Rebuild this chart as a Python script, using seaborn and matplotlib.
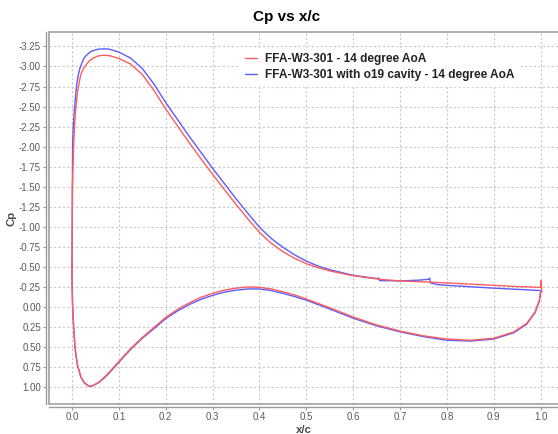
import matplotlib
matplotlib.use("Agg")
import matplotlib.pyplot as plt
from matplotlib.patches import Rectangle
from matplotlib.ticker import MultipleLocator, FormatStrFormatter
import numpy as np
import pandas as pd
import seaborn as sns

# Suction side (upper surface), leading edge -> trailing edge
upper_x_base = [0.000, 0.001, 0.003, 0.005, 0.007, 0.010, 0.012, 0.016, 0.019, 0.025,
                0.030, 0.037, 0.044, 0.055, 0.066, 0.080, 0.100, 0.125, 0.150, 0.175,
                0.200, 0.225, 0.250, 0.275, 0.300, 0.325, 0.350, 0.375, 0.400, 0.425,
                0.450, 0.475, 0.500, 0.525, 0.550, 0.600, 0.657, 0.700, 0.764, 0.800,
                0.900, 0.950, 1.000, 1.001, 1.002]
upper_cp_base = [-0.40, -1.50, -1.92, -2.20, -2.40, -2.58, -2.69, -2.82, -2.90, -2.98,
                 -3.02, -3.07, -3.10, -3.13, -3.14, -3.135, -3.10, -3.03, -2.90, -2.70,
                 -2.47, -2.26, -2.05, -1.85, -1.655, -1.465, -1.28, -1.10, -0.93, -0.795,
                 -0.69, -0.607, -0.54, -0.49, -0.45, -0.39, -0.345, -0.325, -0.31, -0.30,
                 -0.27, -0.255, -0.245, -0.33, -0.21]

upper_x_cav = [0.000, 0.0005, 0.001, 0.0014, 0.003, 0.005, 0.0075, 0.010, 0.013, 0.017,
               0.021, 0.026, 0.033, 0.041, 0.055, 0.069, 0.080, 0.100, 0.125, 0.150,
               0.175, 0.200, 0.225, 0.250, 0.275, 0.300, 0.325, 0.350, 0.375, 0.400,
               0.425, 0.450, 0.475, 0.500, 0.525, 0.550, 0.600, 0.650, 0.655, 0.656,
               0.700, 0.740, 0.761, 0.763, 0.765, 0.780, 0.800, 0.900, 0.950, 1.000,
               1.003]
upper_cp_cav = [-0.40, -1.00, -1.60, -2.06, -2.28, -2.44, -2.62, -2.77, -2.88, -2.98,
                -3.04, -3.11, -3.15, -3.19, -3.215, -3.22, -3.215, -3.18, -3.105, -2.975,
                -2.78, -2.55, -2.34, -2.13, -1.93, -1.73, -1.54, -1.35, -1.17, -0.995,
                -0.855, -0.745, -0.65, -0.572, -0.51, -0.465, -0.395, -0.355, -0.36, -0.33,
                -0.325, -0.335, -0.345, -0.36, -0.30, -0.28, -0.27, -0.235, -0.22, -0.205,
                -0.19]

# Pressure side (lower surface), leading edge -> trailing edge
lower_x_base = [0.0005, 0.0014, 0.0036, 0.0064, 0.009, 0.012, 0.019, 0.026, 0.036, 0.044,
                0.052, 0.059, 0.070, 0.080, 0.100, 0.125, 0.150, 0.175, 0.200, 0.225,
                0.250, 0.275, 0.300, 0.325, 0.350, 0.375, 0.400, 0.425, 0.450, 0.475,
                0.500, 0.550, 0.600, 0.650, 0.700, 0.750, 0.800, 0.850, 0.900, 0.943,
                0.970, 0.988, 0.997, 1.000]
lower_cp_base = [-0.20, 0.00, 0.25, 0.50, 0.62, 0.73, 0.87, 0.94, 0.99, 0.98,
                 0.955, 0.93, 0.87, 0.81, 0.68, 0.52, 0.38, 0.255, 0.13, 0.03,
                 -0.05, -0.12, -0.17, -0.21, -0.235, -0.25, -0.245, -0.225, -0.19, -0.15,
                 -0.10, 0.01, 0.125, 0.225, 0.30, 0.36, 0.40, 0.415, 0.39, 0.31,
                 0.205, 0.06, -0.085, -0.20]

lower_x_cav = [0.0005, 0.0014, 0.0036, 0.0064, 0.009, 0.012, 0.019, 0.026, 0.036, 0.044,
               0.052, 0.059, 0.070, 0.080, 0.100, 0.125, 0.150, 0.175, 0.200, 0.225,
               0.250, 0.275, 0.300, 0.325, 0.350, 0.375, 0.400, 0.425, 0.450, 0.475,
               0.500, 0.550, 0.600, 0.650, 0.700, 0.750, 0.800, 0.850, 0.900, 0.943,
               0.970, 0.988, 0.997, 1.000]
lower_cp_cav = [-0.25, 0.00, 0.25, 0.50, 0.62, 0.73, 0.875, 0.945, 0.99, 0.985,
                0.96, 0.935, 0.88, 0.82, 0.69, 0.53, 0.39, 0.27, 0.145, 0.05,
                -0.03, -0.095, -0.145, -0.185, -0.21, -0.225, -0.225, -0.205, -0.17, -0.13,
                -0.085, 0.025, 0.14, 0.235, 0.31, 0.37, 0.415, 0.425, 0.40, 0.32,
                0.215, 0.07, -0.07, -0.19]

label_base = "FFA-W3-301 - 14 degree AoA"
label_cav = "FFA-W3-301 with o19 cavity - 14 degree AoA"
color_base = "#ff5c5c"
color_cav = "#5c5cff"


def loop_frame(ux, ucp, lx, lcp):
    # closed contour: trailing edge -> leading edge along the upper side, then back along the lower side
    x = list(reversed(ux)) + list(lx)
    cp = list(reversed(ucp)) + list(lcp)
    return pd.DataFrame({"x/c": x, "Cp": cp, "order": np.arange(len(x))})


df_base = loop_frame(upper_x_base, upper_cp_base, lower_x_base, lower_cp_base)
df_cav = loop_frame(upper_x_cav, upper_cp_cav, lower_x_cav, lower_cp_cav)

sns.set_style("white")
plt.rcParams["font.family"] = ["Liberation Sans", "DejaVu Sans"]
plt.rcParams["axes.unicode_minus"] = False

W, H = 558, 434
fig = plt.figure(figsize=(W / 100, H / 100), dpi=100)
L, R, T, B = 49, 559, 32, 404
ax = fig.add_axes([L / W, 1 - B / H, (R - L) / W, (B - T) / H])

sns.lineplot(data=df_cav, x="x/c", y="Cp", sort=False, estimator=None,
             color=color_cav, lw=1.0, ax=ax, label=label_cav, zorder=3)
sns.lineplot(data=df_base, x="x/c", y="Cp", sort=False, estimator=None,
             color=color_base, lw=1.0, ax=ax, label=label_base, zorder=4)

ax.set_xlim(-0.049, 1.039)
ax.set_ylim(1.21, -3.43)

ax.xaxis.set_major_locator(MultipleLocator(0.1))
ax.yaxis.set_major_locator(MultipleLocator(0.25))
ax.xaxis.set_major_formatter(FormatStrFormatter("%.1f"))
ax.yaxis.set_major_formatter(FormatStrFormatter("%.2f"))

ax.grid(True, color="#c8c8c8", linestyle=(0, (2, 2)), linewidth=0.8)
ax.set_axisbelow(True)

for side in ["top", "right"]:
    ax.spines[side].set_visible(False)
for side in ["left", "bottom"]:
    ax.spines[side].set_position(("outward", 2.2))
    ax.spines[side].set_color("#9a9a9a")
    ax.spines[side].set_linewidth(1.0)

# plot outline
ax.add_patch(Rectangle((0, 0), 1, 1, transform=ax.transAxes, fill=False,
                       edgecolor="#a8a8a8", linewidth=1.3, clip_on=False, zorder=5))

ax.tick_params(axis="both", which="major", length=2, width=0.8, color="#9a9a9a",
               labelcolor="#5a5a5a", labelsize=7, pad=1.6, direction="out",
               left=True, bottom=True)

ax.set_xlabel("x/c", fontsize=8.2, fontweight="bold", color="#4a4a4a", labelpad=2)
ax.set_ylabel("Cp", fontsize=8.2, fontweight="bold", color="#4a4a4a", labelpad=1.5)

fig.text(286.5 / W, 1 - 16.5 / H, "Cp vs x/c", ha="center", va="center",
         fontsize=11, fontweight="bold", color="black")

handles, labels = ax.get_legend_handles_labels()
order = [labels.index(label_base), labels.index(label_cav)]
leg = ax.legend([handles[i] for i in order], [labels[i] for i in order],
                loc="upper left", bbox_to_anchor=((240 - L) / (R - L), (B - 48) / (B - T)),
                borderaxespad=0, frameon=True, fancybox=False, framealpha=1,
                edgecolor="white", facecolor="white",
                prop={"weight": "bold", "size": 8.6},
                handlelength=1.0, handletextpad=0.7, labelspacing=0.35, borderpad=0.4)
for t in leg.get_texts():
    t.set_color("#222222")
leg.set_zorder(6)

fig.savefig("out.png", dpi=100, facecolor="white")
